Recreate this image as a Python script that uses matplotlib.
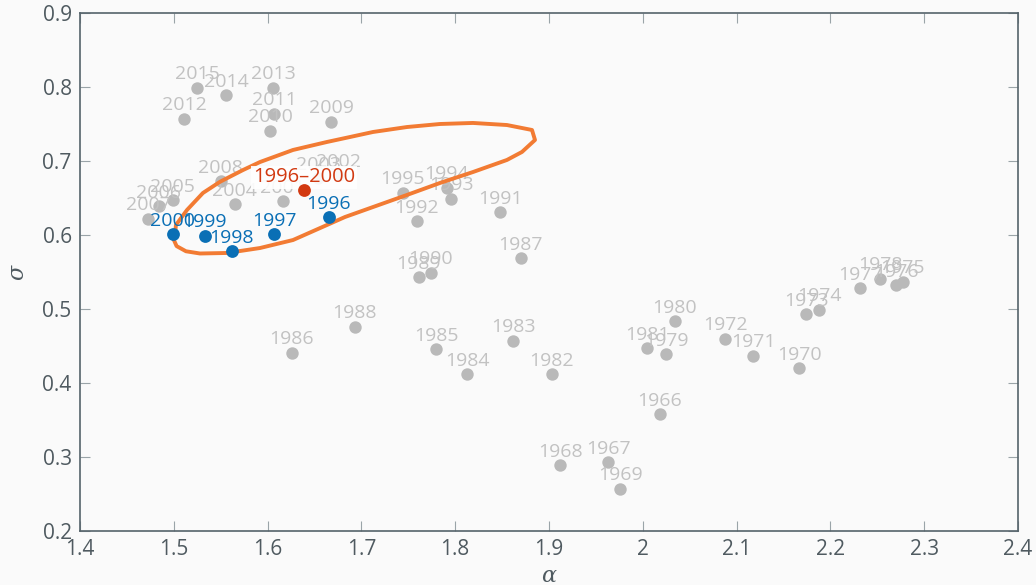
import matplotlib
matplotlib.use("Agg")
import matplotlib.pyplot as plt

plt.rcParams['font.family'] = ['Open Sans', 'DejaVu Sans']
plt.rcParams['mathtext.fontset'] = 'dejavuserif'

# Yearly (alpha, sigma) estimates
years = [1966, 1967, 1968, 1969, 1970, 1971, 1972, 1973, 1974, 1975,
         1976, 1977, 1978, 1979, 1980, 1981, 1982, 1983, 1984, 1985,
         1986, 1987, 1988, 1989, 1990, 1991, 1992, 1993, 1994, 1995,
         2001, 2002, 2003, 2004, 2005, 2006, 2007, 2008, 2009, 2010,
         2011, 2012, 2013, 2014, 2015]
alpha = [2.018, 1.963, 1.912, 1.976, 2.167, 2.118, 2.088, 2.174, 2.188, 2.277,
         2.270, 2.232, 2.253, 2.025, 2.034, 2.005, 1.903, 1.862, 1.813, 1.780,
         1.626, 1.870, 1.693, 1.761, 1.774, 1.848, 1.759, 1.796, 1.791, 1.744,
         1.616, 1.676, 1.654, 1.565, 1.499, 1.484, 1.473, 1.550, 1.668, 1.603,
         1.607, 1.511, 1.606, 1.556, 1.525]
sigma = [0.358, 0.293, 0.289, 0.257, 0.420, 0.437, 0.460, 0.493, 0.499, 0.537,
         0.532, 0.528, 0.541, 0.439, 0.484, 0.447, 0.412, 0.457, 0.412, 0.446,
         0.441, 0.569, 0.476, 0.543, 0.549, 0.631, 0.619, 0.649, 0.664, 0.657,
         0.646, 0.681, 0.677, 0.642, 0.647, 0.639, 0.622, 0.673, 0.753, 0.741,
         0.764, 0.757, 0.799, 0.789, 0.799]

# Highlighted sub-period
hl_years = [1996, 1997, 1998, 1999, 2000]
hl_alpha = [1.665, 1.607, 1.562, 1.533, 1.499]
hl_sigma = [0.624, 0.601, 0.578, 0.599, 0.601]

# Pooled estimate for the sub-period
pool_label = "1996–2000"
pool_alpha = 1.639
pool_sigma = 0.661

# Confidence region outline for the pooled estimate
region_alpha = [1.4995, 1.5013, 1.5023, 1.5141, 1.5311, 1.5493, 1.5738, 1.5919,
                1.6271, 1.6633, 1.6878, 1.7124, 1.7486, 1.7838, 1.8190, 1.8552,
                1.8819, 1.8851, 1.8712, 1.8552, 1.8190, 1.7838, 1.7486, 1.7124,
                1.6825, 1.6633, 1.6271, 1.5919, 1.5567, 1.5279, 1.5130, 1.5030,
                1.4995]
region_sigma = [0.5950, 0.6010, 0.6135, 0.6338, 0.6568, 0.6719, 0.6878, 0.6986,
                0.7149, 0.7257, 0.7324, 0.7392, 0.7459, 0.7500, 0.7514, 0.7486,
                0.7419, 0.7284, 0.7122, 0.7014, 0.6851, 0.6703, 0.6541, 0.6378,
                0.6243, 0.6135, 0.5932, 0.5824, 0.5757, 0.5750, 0.5780, 0.5850,
                0.5950]

x_ticks = [1.4, 1.5, 1.6, 1.7, 1.8, 1.9, 2.0, 2.1, 2.2, 2.3, 2.4]
x_tick_labels = ["1.4", "1.5", "1.6", "1.7", "1.8", "1.9", "2", "2.1", "2.2", "2.3", "2.4"]
y_ticks = [0.2, 0.3, 0.4, 0.5, 0.6, 0.7, 0.8, 0.9]

BG = "#fafafa"
GRAY_DOT = "#b9b9b9"
GRAY_TXT = "#c2c2c2"
BLUE = "#0a6fb5"
RED = "#d23a12"
ORANGE = "#f27b33"
AXIS = "#55636a"

fig = plt.figure(figsize=(10.36, 5.85), dpi=100, facecolor=BG)
ax = fig.add_axes([0.0772, 0.0923, 0.9054, 0.8855])
ax.set_facecolor(BG)

label_offset = (0, 6)
ax.scatter(alpha, sigma, s=80, color=GRAY_DOT, linewidths=0, zorder=2)
for yr, a, s in zip(years, alpha, sigma):
    ax.annotate(str(yr), (a, s), xytext=label_offset, textcoords="offset points",
                ha="center", va="baseline", fontsize=14, color=GRAY_TXT, zorder=2)

ax.plot(region_alpha, region_sigma, color=ORANGE, lw=2.8, solid_joinstyle="round",
        zorder=3)

ax.scatter(hl_alpha, hl_sigma, s=85, color=BLUE, linewidths=0, zorder=4)
for yr, a, s in zip(hl_years, hl_alpha, hl_sigma):
    ax.annotate(str(yr), (a, s), xytext=label_offset, textcoords="offset points",
                ha="center", va="baseline", fontsize=14, color=BLUE, zorder=5)

ax.annotate(pool_label, (pool_alpha, pool_sigma), xytext=(0, 5.5),
            textcoords="offset points", ha="center", va="baseline", fontsize=14.5,
            color=RED, zorder=7,
            bbox=dict(boxstyle="square,pad=0.08", facecolor="white",
                      edgecolor="none", alpha=0.9))
ax.scatter([pool_alpha], [pool_sigma], s=85, color=RED, linewidths=0, zorder=8)

ax.set_xlim(1.4, 2.4)
ax.set_ylim(0.2, 0.9)
ax.set_xticks(x_ticks)
ax.set_xticklabels(x_tick_labels)
ax.set_yticks(y_ticks)
ax.set_yticklabels([f"{v:.1f}" for v in y_ticks])

for sp in ax.spines.values():
    sp.set_color(AXIS)
    sp.set_linewidth(1.2)
ax.tick_params(direction="in", length=7, width=0.8, color="#9aa4a8",
               top=True, right=True, labelsize=15, labelcolor="#4f5a60", pad=6)

ax.set_xlabel(r"$\alpha$", fontsize=16, color="#4f5a60", labelpad=4)
ax.set_ylabel(r"$\sigma$", fontsize=16, color="#4f5a60", labelpad=10)

fig.savefig("out.png", dpi=100, facecolor=BG)
